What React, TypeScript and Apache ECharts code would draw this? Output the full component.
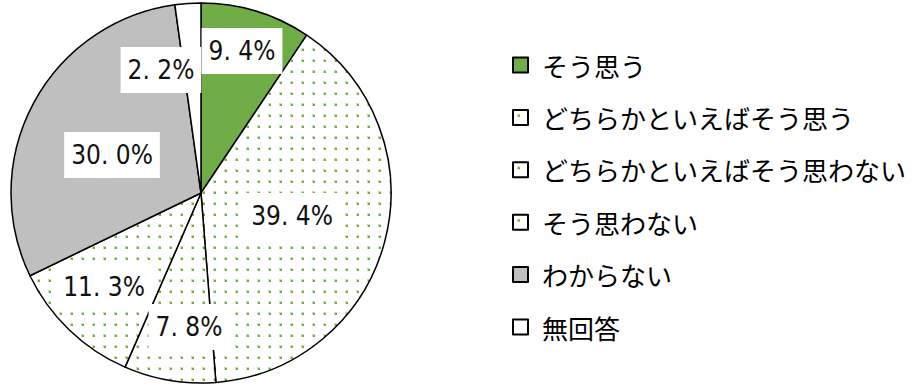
import React, { useEffect, useRef } from "react";
import * as echarts from "echarts";

const categories = [
  "そう思う",
  "どちらかといえばそう思う",
  "どちらかといえばそう思わない",
  "そう思わない",
  "わからない",
  "無回答",
];
const values = [9.4, 39.4, 7.8, 11.3, 30.0, 2.2];
const fillKinds = ["solid", "dots", "dots", "dots", "gray", "white"];
// label box centres (layout only)
const labelPos = [
  [242, 51],
  [292, 216],
  [189, 327],
  [104, 287],
  [112, 155],
  [161, 70],
];

function makeDots(): HTMLCanvasElement {
  const c = document.createElement("canvas");
  c.width = 11;
  c.height = 11;
  const ctx = c.getContext("2d")!;
  ctx.fillStyle = "#ffffff";
  ctx.fillRect(0, 0, 11, 11);
  ctx.fillStyle = "#c3e0af";
  ctx.fillRect(4, 4, 3, 3);
  ctx.fillStyle = "#70ad47";
  ctx.fillRect(5, 5, 2, 2);
  return c;
}

export default function App() {
  const ref = useRef<HTMLDivElement>(null);
  useEffect(() => {
    const chart = echarts.init(ref.current!, undefined, { renderer: "svg" });
    const dots = makeDots();
    const colorFor = (k: string): any => {
      if (k === "solid") return "#70ad47";
      if (k === "gray") return "#bfbfbf";
      if (k === "white") return "#ffffff";
      return { image: dots, repeat: "repeat" };
    };
    const data = categories.map((name, i) => ({
      name,
      value: values[i],
      itemStyle: { color: colorFor(fillKinds[i]) },
    }));
    chart.setOption({
      animation: false,
      backgroundColor: "#ffffff",
      legend: {
        orient: "vertical",
        left: 512,
        top: 52,
        padding: 0,
        itemWidth: 15,
        itemHeight: 15,
        itemGap: 26.4,
        icon: "rect",
        selectedMode: false,
        textStyle: {
          fontFamily: "'Noto Sans CJK JP', sans-serif",
          fontSize: 26,
          lineHeight: 26,
          color: "#000",
          padding: [0, 0, 0, 9],
        },
        data: categories,
      },
      series: [
        {
          type: "pie",
          center: [201, 193],
          radius: 190,
          startAngle: 90,
          clockwise: true,
          data,
          itemStyle: { borderColor: "#000", borderWidth: 1.5 },
          emphasis: { disabled: true },
          label: {
            show: true,
            position: "inside",
            formatter: (p: any) => `${p.value.toFixed(1)}%`.replace(".", ". "),
            fontFamily:
              "'DejaVu Sans Condensed', 'Liberation Sans Narrow', 'Liberation Sans', sans-serif",
            fontSize: 26,
            color: "#111",
            backgroundColor: "#ffffff",
            padding: [11, 7, 9, 7],
          },
          labelLine: { show: false },
          labelLayout: (params: any) => {
            const p = labelPos[params.dataIndex];
            return { x: p[0], y: p[1], align: "center", verticalAlign: "middle" };
          },
        },
      ],
    });
    return () => chart.dispose();
  }, []);
  return (
    <div
      ref={ref}
      style={{ position: "fixed", left: 0, top: 0, width: 918, height: 387 }}
    />
  );
}
